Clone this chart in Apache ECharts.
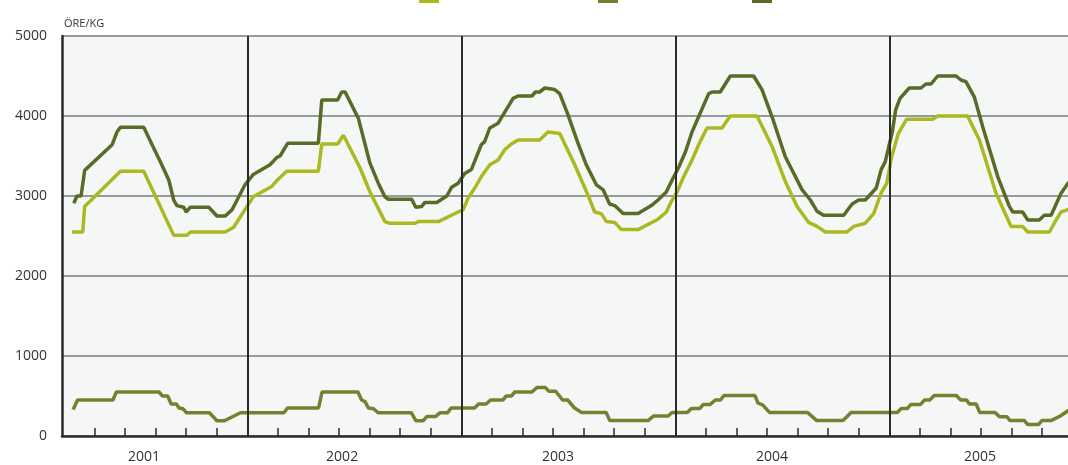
<!DOCTYPE html>
<html>
<head>
<meta charset="utf-8">
<script src="https://cdn.jsdelivr.net/npm/echarts@6/dist/echarts.min.js"></script>
<style>
html,body{margin:0;padding:0;background:#fff;}
#chart{width:1068px;height:465px;}
</style>
</head>
<body>
<div id="chart"></div>
<script>
// ---- data (x = fractional year, y = öre/kg) ----
const upperPrice = [
[2001.189,2910],[2001.204,3000],[2001.223,3000],[2001.240,3320],[2001.368,3640],[2001.391,3800],[2001.407,3860],[2001.516,3860],
[2001.555,3640],[2001.593,3430],[2001.633,3200],[2001.656,2950],[2001.671,2880],[2001.703,2860],[2001.714,2800],[2001.734,2860],
[2001.820,2860],[2001.858,2750],[2001.897,2750],[2001.929,2830],[2001.960,2990],[2001.989,3140],[2002.028,3270],[2002.106,3390],
[2002.137,3480],[2002.153,3500],[2002.189,3660],[2002.332,3660],[2002.348,4200],[2002.422,4200],[2002.441,4300],[2002.457,4300],
[2002.519,3970],[2002.573,3410],[2002.612,3160],[2002.643,2990],[2002.659,2960],[2002.768,2960],[2002.787,2860],[2002.815,2870],
[2002.830,2920],[2002.885,2920],[2002.932,3000],[2002.955,3110],[2002.985,3160],[2003.016,3280],[2003.047,3330],[2003.093,3640],
[2003.109,3680],[2003.133,3850],[2003.172,3910],[2003.242,4220],[2003.265,4250],[2003.330,4250],[2003.346,4300],[2003.366,4300],
[2003.390,4350],[2003.436,4330],[2003.460,4280],[2003.499,4010],[2003.545,3660],[2003.584,3390],[2003.631,3140],[2003.662,3080],
[2003.693,2900],[2003.717,2880],[2003.756,2780],[2003.826,2780],[2003.888,2880],[2003.919,2950],[2003.958,3050],[2003.985,3200],
[2004.016,3360],[2004.047,3550],[2004.078,3800],[2004.109,3990],[2004.156,4280],[2004.172,4300],[2004.210,4300],[2004.257,4500],
[2004.366,4500],[2004.405,4330],[2004.452,3990],[2004.514,3490],[2004.592,3080],[2004.631,2950],[2004.662,2810],[2004.693,2760],
[2004.787,2760],[2004.826,2900],[2004.857,2950],[2004.888,2950],[2004.939,3100],[2004.962,3330],[2004.981,3430],[2004.990,3420],
[2005.014,3800],[2005.030,4080],[2005.050,4220],[2005.093,4350],[2005.148,4350],[2005.171,4400],[2005.195,4400],[2005.226,4500],
[2005.312,4500],[2005.335,4450],[2005.358,4430],[2005.397,4240],[2005.436,3870],[2005.507,3240],[2005.561,2870],[2005.577,2800],
[2005.623,2800],[2005.647,2700],[2005.701,2700],[2005.724,2760],[2005.756,2760],[2005.802,3030],[2005.835,3160],[2005.870,3250]
];
const lowerPrice = [
[2001.181,2550],[2001.231,2550],[2001.240,2870],[2001.407,3310],[2001.516,3310],[2001.656,2510],[2001.718,2510],[2001.734,2550],
[2001.897,2550],[2001.936,2610],[2001.989,2830],[2002.028,2990],[2002.114,3120],[2002.137,3190],[2002.184,3310],[2002.332,3310],
[2002.348,3650],[2002.422,3650],[2002.449,3760],[2002.457,3750],[2002.527,3350],[2002.573,3050],[2002.643,2680],[2002.662,2660],
[2002.784,2660],[2002.799,2680],[2002.893,2680],[2002.985,2800],[2003.009,2830],[2003.031,2970],[2003.063,3100],[2003.093,3240],
[2003.133,3390],[2003.172,3450],[2003.203,3580],[2003.234,3650],[2003.265,3700],[2003.366,3700],[2003.405,3800],[2003.460,3780],
[2003.530,3390],[2003.592,3010],[2003.623,2800],[2003.654,2780],[2003.678,2680],[2003.717,2670],[2003.748,2580],[2003.826,2580],
[2003.919,2710],[2003.958,2800],[2003.981,2930],[2004.008,3050],[2004.039,3240],[2004.078,3450],[2004.109,3640],[2004.148,3850],
[2004.218,3850],[2004.257,4000],[2004.382,4000],[2004.452,3620],[2004.514,3180],[2004.569,2870],[2004.623,2670],[2004.662,2620],
[2004.701,2550],[2004.802,2550],[2004.834,2620],[2004.888,2660],[2004.927,2780],[2004.962,3040],[2004.988,3160],[2005.011,3490],
[2005.042,3780],[2005.081,3960],[2005.203,3960],[2005.226,4000],[2005.366,4000],[2005.421,3700],[2005.499,3030],[2005.569,2620],
[2005.623,2620],[2005.647,2550],[2005.748,2550],[2005.771,2660],[2005.802,2800],[2005.835,2830],[2005.870,2900]
];
const priceGap = [
[2001.186,330],[2001.207,450],[2001.372,450],[2001.388,550],[2001.587,550],[2001.604,500],[2001.628,500],[2001.644,400],
[2001.668,400],[2001.681,350],[2001.700,340],[2001.716,290],[2001.823,290],[2001.858,190],[2001.893,190],[2001.968,290],
[2002.171,290],[2002.188,350],[2002.333,350],[2002.349,550],[2002.517,550],[2002.534,450],[2002.550,430],[2002.566,350],
[2002.590,340],[2002.611,290],[2002.767,290],[2002.788,190],[2002.821,190],[2002.840,245],[2002.880,245],[2002.900,290],
[2002.936,290],[2002.952,350],[2003.062,350],[2003.081,400],[2003.116,400],[2003.137,450],[2003.194,450],[2003.210,500],
[2003.234,500],[2003.250,550],[2003.330,550],[2003.353,605],[2003.393,605],[2003.409,560],[2003.441,560],[2003.473,450],
[2003.497,450],[2003.529,350],[2003.562,295],[2003.677,295],[2003.693,195],[2003.874,195],[2003.898,250],[2003.966,250],
[2003.986,295],[2004.056,295],[2004.075,345],[2004.115,345],[2004.131,395],[2004.163,395],[2004.187,450],[2004.211,450],
[2004.227,505],[2004.372,505],[2004.387,410],[2004.408,390],[2004.440,295],[2004.617,295],[2004.660,195],[2004.784,195],
[2004.821,295],[2005.037,295],[2005.056,345],[2005.085,345],[2005.101,395],[2005.146,395],[2005.165,450],[2005.189,450],
[2005.210,505],[2005.313,505],[2005.334,450],[2005.361,450],[2005.374,400],[2005.406,400],[2005.422,295],[2005.494,295],
[2005.515,240],[2005.550,240],[2005.563,195],[2005.630,195],[2005.646,145],[2005.698,145],[2005.714,195],[2005.758,195],
[2005.799,250],[2005.835,315],[2005.870,340]
];
const years = [2001, 2002, 2003, 2004, 2005];
const yearLabels = ['2001', '2002', '2003', '2004', '2005'];
const yearDividers = [2002, 2003, 2004, 2005];

// ---- layout helpers ----
const X_MIN = 2001.134, X_MAX = 2005.835;
const labelAt = [2001.517, 2002.443, 2003.452, 2004.452, 2005.424];
const minorTicks = [];
years.forEach(y => { for (let k = 1; k <= 6; k++) { const v = y + k / 7; if (v > X_MIN + 0.02 && v < X_MAX) minorTicks.push(+v.toFixed(4)); } });

const C_LIGHT = '#abb822', C_MID = '#738130', C_DARK = '#5a6a27';

const chart = echarts.init(document.getElementById('chart'));
chart.setOption({
  animation: false,
  backgroundColor: '#ffffff',
  grid: { left: 62, right: 0, top: 36, bottom: 29, show: true, backgroundColor: '#f5f7f7', borderWidth: 0 },
  xAxis: {
    type: 'value', min: X_MIN, max: X_MAX,
    axisLine: { show: true, lineStyle: { color: '#2b2b2b', width: 2.5 } },
    axisTick: { show: true, inside: true, length: 8, customValues: minorTicks, lineStyle: { color: '#2b2b2b', width: 1.5 } },
    axisLabel: { customValues: labelAt, formatter: v => yearLabels[years.indexOf(Math.floor(v + 1e-6))] || '', fontSize: 14, color: '#333', margin: 14, fontFamily: 'Open Sans' },
    splitLine: { show: false }
  },
  yAxis: {
    type: 'value', min: 0, max: 5000, interval: 1000,
    name: 'ÖRE/KG', nameLocation: 'end', nameGap: 7,
    nameTextStyle: { fontSize: 11, color: '#333', align: 'left', padding: [0, 0, 0, 2], fontFamily: 'Open Sans' },
    axisLine: { show: true, lineStyle: { color: '#2b2b2b', width: 2.5 } },
    axisTick: { show: false },
    axisLabel: { formatter: v => String(v), fontSize: 14, color: '#333', margin: 15, fontFamily: 'Open Sans' },
    splitLine: { show: true, lineStyle: { color: '#7a7a7a', width: 1.5 } }
  },
  graphic: [
    { type: 'rect', left: 419, top: -16, shape: { width: 20, height: 19 }, style: { fill: C_LIGHT } },
    { type: 'rect', left: 598, top: -16, shape: { width: 20, height: 19 }, style: { fill: C_MID } },
    { type: 'rect', left: 752, top: -16, shape: { width: 20, height: 19 }, style: { fill: C_DARK } }
  ],
  series: [
    { type: 'line', name: 'dividers', data: [], z: 1, silent: true,
      markLine: { silent: true, symbol: ['none', 'none'], label: { show: false },
        lineStyle: { color: '#2b2b2b', width: 2, type: 'solid' },
        data: yearDividers.map(v => ({ xAxis: v })) } },
    { type: 'line', name: 'Skillnad', data: priceGap, showSymbol: false, z: 3,
      lineStyle: { color: C_MID, width: 3.5 }, itemStyle: { color: C_MID } },
    { type: 'line', name: 'Lägre pris', data: lowerPrice, showSymbol: false, z: 3,
      lineStyle: { color: C_LIGHT, width: 3.5 }, itemStyle: { color: C_LIGHT } },
    { type: 'line', name: 'Högre pris', data: upperPrice, showSymbol: false, z: 3,
      lineStyle: { color: C_DARK, width: 3.5 }, itemStyle: { color: C_DARK } }
  ]
});
</script>
</body>
</html>
